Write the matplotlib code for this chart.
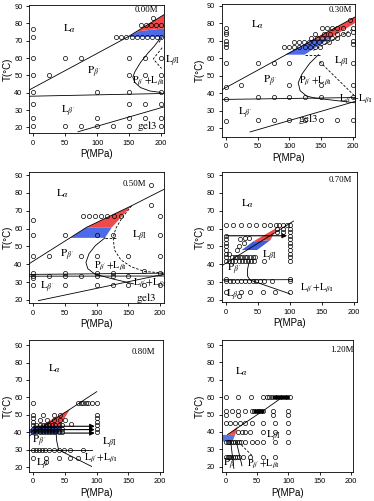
import matplotlib
matplotlib.use("Agg")
import matplotlib.pyplot as plt

plt.rcParams["font.family"] = ["Liberation Sans", "DejaVu Sans"]
plt.rcParams["mathtext.fontset"] = "stix"

# ------------------------------------------------------------
# data: P (MPa), T (degC)
# rows = (T, [P values])
# ------------------------------------------------------------
conc = ["0.00M", "0.30M", "0.50M", "0.70M", "0.80M", "1.20M"]

# ---- 0.00 M
rows_000 = [
    (83, [188]),
    (79, [168, 177, 185, 193, 200]),
    (77, [0]),
    (72, [0, 130, 138, 146, 154, 162, 170, 178, 186, 194, 200]),
    (60, [0, 50, 75, 150, 175, 200]),
    (50.5, [0, 25, 150, 175, 200]),
    (40.3, [0, 100, 150, 200]),
    (33.5, [0, 150, 175, 200]),
    (25.2, [0, 100, 150, 175, 200]),
    (20.8, [0, 50, 75, 100, 125, 150, 200]),
]
solid_000 = [
    [(-7, 41.5), (148, 72.2), (206, 85.3)],
    [(-7, 38.0), (206, 39.6)],
    [(200, 72), (190, 67), (180, 63), (168, 57.5), (159, 52), (156, 49),
     (159, 46), (168, 43), (183, 41), (200, 40.2)],
    [(70, 17.5), (206, 32)],
]
dashed_000 = [[(202, 66), (188, 59.5), (201, 54)], [(197, 69), (202, 72)]]
red_000 = [(148, 72.2), (206, 85.3), (206, 77.2), (165, 75.5)]
blue_000 = [(148, 72.2), (165, 75.5), (206, 77.2), (206, 72.2), (152, 72.2)]
text_000 = [(r"$\mathrm{L}_{\alpha}$", 57, 77), (r"$\mathrm{P}_{\beta'}$", 96, 51.5),
            (r"$\mathrm{L}_{\beta\mathrm{I}}$", 218, 58),
            (r"$\mathrm{P}_{\beta'}\mathrm{+L}_{\beta\mathrm{I}}$", 181, 46.5),
            (r"$\mathrm{L}_{\beta'}$", 55, 29.5), (r"$\mathrm{gel3}$", 178, 20.6)]

# ---- 0.30 M
rows_030 = [
    (81.5, [196]),
    (77, [0, 152, 160, 168, 176, 184, 200]),
    (75, [0, 200]),
    (74, [140, 155, 165, 175, 185, 193]),
    (73.5, [0]),
    (71.5, [135, 143, 151, 159, 167, 175]),
    (70, [0, 200]),
    (69, [107, 115, 123, 131, 139, 147, 155, 163]),
    (68, [0, 200]),
    (66.5, [0, 92, 100, 108, 116, 124, 132, 140, 148]),
    (57, [0, 50, 75, 100, 150, 200]),
    (44.5, [24, 100, 150, 200]),
    (43.5, [0]),
    (38, [50, 75, 100, 125, 150, 200]),
    (37, [0]),
    (25, [50, 75, 100, 125, 150, 175, 200]),
    (24, [0]),
]
solid_030 = [
    [(-7, 41.9), (206, 83.9)],
    [(146, 62), (132, 57), (120, 51), (114, 46), (117, 41.5), (127, 38.5), (140, 37.3)],
    [(-7, 36.5), (206, 37.6)],
    [(140, 37.3), (206, 34.5)],
    [(38, 18), (206, 35.6)],
]
dashed_030 = [[(124, 62), (150, 62)], [(148, 58), (206, 37.5)], [(138, 64.5), (200, 76.5)]]
red_030 = [(140, 71), (206, 83.9), (206, 80.5), (165, 71.5)]
blue_030 = [(93, 62), (124, 62), (165, 71.5), (140, 71)]
text_030 = [(r"$\mathrm{L}_{\alpha}$", 50, 79), (r"$\mathrm{P}_{\beta'}$", 70, 47),
            (r"$\mathrm{P}_{\beta'}\mathrm{+L}_{\beta\mathrm{I}}$", 141, 47),
            (r"$\mathrm{L}_{\beta\mathrm{I}}$", 183, 57.5),
            (r"$\mathrm{L}_{\beta'}\mathrm{+L}_{\beta\mathrm{I}}$", 204, 36.5),
            (r"$\mathrm{L}_{\beta'}$", 30, 28.5), (r"$\mathrm{gel3}$", 130, 25.3)]

# ---- 0.50 M
rows_050 = [
    (84.5, [186]),
    (73.5, [185]),
    (67, [79, 88, 98, 107, 117, 127, 138, 200]),
    (65, [0]),
    (56.5, [0, 50, 100, 125, 200]),
    (44.5, [0, 25, 75, 100, 150, 200]),
    (36, [175]),
    (35.2, [0, 50, 100, 125, 200]),
    (33.5, [0, 25, 50, 75, 100, 125, 150]),
    (32.2, [0]),
    (28.3, [0, 50, 100, 125, 150, 175, 200]),
]
solid_050 = [
    [(-7, 40.2), (58, 54.8), (84, 60.7), (155, 72.8), (206, 82)],
    [(113, 54.8), (98, 50.5), (88, 46), (83, 41), (86, 37.5), (97, 34.5), (125, 31.8), (158, 29)],
    [(-7, 34.3), (206, 35)],
    [(-7, 33.3), (206, 33.4)],
    [(8, 19.6), (206, 34.4)],
]
dashed_050 = [[(113, 54.8), (130, 54.8)],
              [(155, 72.8), (140, 66), (130, 60), (126, 55), (128, 48), (138, 42.5),
               (155, 38.5), (175, 36), (206, 35)]]
red_050 = [(84, 60.7), (155, 72.8), (124, 60.7)]
blue_050 = [(58, 54.8), (84, 60.7), (124, 60.7), (113, 54.8)]
text_050 = [(r"$\mathrm{L}_{\alpha}$", 46, 79.5), (r"$\mathrm{P}_{\beta'}$", 54, 45),
            (r"$\mathrm{L}_{\beta\mathrm{I}}$", 168, 55.5),
            (r"$\mathrm{P}_{\beta'}\mathrm{+L}_{\beta\mathrm{I}}$", 121, 38.8),
            (r"$\mathrm{L}_{\beta'}\mathrm{+L}_{\beta\mathrm{I}}$", 183, 29.3),
            (r"$\mathrm{L}_{\beta'}$", 23, 27), (r"$\mathrm{gel3}$", 178, 20.8)]

# ---- 0.70 M
rows_070 = [
    (62, [0, 12, 24, 36, 48, 60, 70, 78, 84, 90, 96, 100]),
    (60, [80, 90, 100]),
    (58, [80, 90, 100]),
    (56, [0, 100]),
    (55, [30, 36]),
    (54, [0, 22, 100]),
    (52, [0, 28, 100]),
    (50, [0, 20, 100]),
    (48, [0, 17, 100]),
    (46, [0, 5, 100]),
    (44, [0, 10, 14, 18, 22, 26, 30, 34, 38, 42, 46, 100]),
    (42, [0, 5, 10, 15, 20, 25, 30, 35, 40, 45, 60, 100]),
    (32, [0, 100]),
    (30.5, [0, 6, 12, 18, 24, 30, 36, 42, 48, 54, 60, 72, 100]),
    (24.5, [0, 24, 38, 59, 77, 100]),
    (22.5, [20]),
]
solid_070 = [
    [(-7, 39.0), (106, 64.2)],
    [(37, 42), (34, 37), (34, 33.5), (38, 31.2), (45, 30.3), (100, 23.5)],
    [(-7, 31.2), (104, 31.4)],
]
dashed_070 = []
arrows_070 = [(0, 56, 96, 56)]
red_070 = [(43, 52.8), (80, 60.5), (70, 53.6)]
blue_070 = [(25, 48), (43, 52.8), (70, 53.6), (49, 48)]
text_070 = [(r"$\mathrm{L}_{\alpha}$", 34, 74), (r"$\mathrm{L}_{\beta\mathrm{I}}$", 69, 44.3),
            (r"$\mathrm{P}_{\beta'}$", 14, 37),
            (r"$\mathrm{L}_{\beta'}\mathrm{+L}_{\beta\mathrm{I}}$", 142, 26.5),
            (r"$\mathrm{L}_{\beta'}$", 12, 22.5)]

# ---- 0.80 M
rows_080 = [
    (57, [0, 71, 75, 79, 83, 87, 92, 100]),
    (50, [0, 16, 32, 42, 100]),
    (48, [0, 100]),
    (47, [10, 21, 32, 42, 50]),
    (46, [0, 100]),
    (45, [60]),
    (44, [0, 5, 10, 15, 20, 25, 30, 35, 40, 45, 100]),
    (42, [0, 5, 10, 15, 20, 25, 30, 35, 40, 45, 100]),
    (40, [0, 5, 10, 15, 20, 25, 30, 35, 40, 45, 100]),
    (30, [0, 5, 9, 14, 18, 25, 32, 40, 48, 58, 79]),
    (25.2, [0, 20, 40, 58, 70]),
    (22.8, [20]),
]
solid_080 = [
    [(-7, 37.8), (100, 63.3)],
    [(36, 39.5), (37, 35), (40, 30), (92, 20.5)],
    [(-7, 30), (92, 30)],
]
dashed_080 = []
arrows_080 = [(0, 43.5, 97, 43.5), (0, 41.6, 97, 41.6), (0, 39.6, 97, 39.6)]
red_080 = [(12, 43.8), (58, 53.3), (42, 43.8)]
blue_080 = [(-7, 39.5), (-7, 41.5), (8, 43.8), (44, 43.8), (40, 39.5)]
text_080 = [(r"$\mathrm{L}_{\alpha}$", 34, 76.6), (r"$\mathrm{P}_{\beta'}$", 10, 34.7),
            (r"$\mathrm{L}_{\beta\mathrm{I}}$", 121, 33.5),
            (r"$\mathrm{L}_{\beta'}\mathrm{+L}_{\beta\mathrm{I}}$", 106, 25.2),
            (r"$\mathrm{L}_{\beta'}$", 16, 21.8)]

# ---- 1.20 M
rows_120 = [
    (60.3, [0, 20, 40, 60, 66, 70, 74, 78, 82, 86, 90, 94, 98, 102]),
    (52, [0, 10, 20, 31, 42, 45, 48, 51, 54, 57, 60, 76, 100]),
    (50, [0, 20, 76, 100]),
    (45.2, [0, 7, 15, 23, 31, 42, 60, 79, 100]),
    (39.8, [20, 26, 31, 39, 60, 79, 100]),
    (34.2, [0, 3, 6, 9, 12, 15, 18, 21, 24, 31, 42, 50, 60, 79, 100]),
    (25.8, [0, 3, 6, 9, 12, 15, 18, 21, 28, 39, 60, 79]),
]
solid_120 = [
    [(3, 38.5), (60, 52.2), (92, 60.3)],
    [(8, 34.4), (13, 19)],
    [(17, 34.4), (26, 20.5)],
]
dashed_120 = [[(25, 32.5), (44, 25.7)]]
bars_120 = [(44, 52, 62, 52), (74, 60.3, 101, 60.3)]
red_120 = [(3, 38.3), (20, 43.3), (15, 38.3)]
blue_120 = [(-7, 34.5), (-7, 38.3), (15, 38.3), (11, 34.5)]
text_120 = [(r"$\mathrm{L}_{\alpha}$", 25, 74.7), (r"$\mathrm{L}_{\beta\mathrm{I}}$", 76, 37.6),
            (r"$\mathrm{P}_{\beta'}$", 7, 21),
            (r"$\mathrm{P}_{\beta'}\mathrm{+L}_{\beta\mathrm{I}}$", 60, 21.2)]

conc_xy = [(177, 88), (180, 87.5), (160, 85), (179, 87.2), (174, 86.2), (185, 87)]

# axes placement (figure fraction) and limits
rects = [[0.0783, 0.7345, 0.360, 0.2555], [0.5928, 0.7272, 0.3564, 0.2639],
         [0.0783, 0.3946, 0.360, 0.2627], [0.5928, 0.3966, 0.361, 0.2607],
         [0.0783, 0.0585, 0.3583, 0.2629], [0.5928, 0.0585, 0.3519, 0.2629]]
xlims = [(-6.3, 204.7), (-6.8, 203.7), (-6.3, 206), (-6.3, 205), (-6.3, 205), (-6.4, 204)]
ylims = [(16.8, 90.6), (15.3, 90.6), (18.1, 91.9), (18.7, 91.9), (17.5, 92.9), (17.1, 92.9)]

panels = [
    dict(rows=rows_000, solid=solid_000, dashed=dashed_000, red=red_000, blue=blue_000,
         text=text_000, arrows=[], bars=[], bluec="#4d6be6"),
    dict(rows=rows_030, solid=solid_030, dashed=dashed_030, red=red_030, blue=blue_030,
         text=text_030, arrows=[], bars=[], bluec="#4d6be6"),
    dict(rows=rows_050, solid=solid_050, dashed=dashed_050, red=red_050, blue=blue_050,
         text=text_050, arrows=[], bars=[], bluec="#4d6be6"),
    dict(rows=rows_070, solid=solid_070, dashed=dashed_070, red=red_070, blue=blue_070,
         text=text_070, arrows=arrows_070, bars=[], bluec="#3f5ed8"),
    dict(rows=rows_080, solid=solid_080, dashed=dashed_080, red=red_080, blue=blue_080,
         text=text_080, arrows=arrows_080, bars=[], bluec="#2b44a6"),
    dict(rows=rows_120, solid=solid_120, dashed=dashed_120, red=red_120, blue=blue_120,
         text=text_120, arrows=[], bars=bars_120, bluec="#5577e0"),
]

fig = plt.figure(figsize=(3.74, 5.01), dpi=100)

for i, pn in enumerate(panels):
    ax = fig.add_axes(rects[i])
    # coloured coexistence regions
    xs, ys = zip(*pn["blue"])
    ax.fill(xs, ys, color=pn["bluec"], lw=0, zorder=1)
    xs, ys = zip(*pn["red"])
    ax.fill(xs, ys, color="#ee4a4a", lw=0, zorder=1)
    # boundaries
    for ln in pn["solid"]:
        xs, ys = zip(*ln)
        ax.plot(xs, ys, color="black", lw=0.6, zorder=2)
    for ln in pn["dashed"]:
        xs, ys = zip(*ln)
        ax.plot(xs, ys, color="black", lw=0.6, ls=(0, (3, 2)), zorder=2)
    for x0, y0, x1, y1 in pn["bars"]:
        ax.plot([x0, x1], [y0, y1], color="black", lw=2.2, solid_capstyle="butt", zorder=3)
    for x0, y0, x1, y1 in pn["arrows"]:
        ax.annotate("", xy=(x1, y1), xytext=(x0, y0),
                    arrowprops=dict(arrowstyle="-|>", color="black", lw=0.8,
                                    mutation_scale=7, shrinkA=0, shrinkB=0), zorder=3)
    # measured points
    P = [p for t, ps in pn["rows"] for p in ps]
    T = [t for t, ps in pn["rows"] for p in ps]
    ax.plot(P, T, ls="none", marker="o", ms=3.0, mfc="none", mec="black", mew=0.5,
            zorder=4, clip_on=False)
    # region labels (two-phase labels a bit smaller)
    for s, x, y in pn["text"]:
        fs = 7 if "+" in s else 8
        ax.text(x, y, s, fontsize=fs, ha="center", va="center", zorder=5)
    ax.text(conc_xy[i][0], conc_xy[i][1], conc[i], fontsize=6.3, family="Liberation Serif",
            ha="center", va="center")

    ax.set_xlim(*xlims[i])
    ax.set_ylim(*ylims[i])
    ax.set_xticks([0, 50, 100, 150, 200])
    ax.set_yticks(range(20, 91, 10))
    ax.tick_params(direction="out", length=2.4, width=0.6, labelsize=5.3, pad=2.5)
    for sp in ax.spines.values():
        sp.set_linewidth(0.6)
    ax.set_xlabel("P(MPa)", fontsize=7, labelpad=1.5)
    ax.set_ylabel("T(\u00b0C)", fontsize=7, labelpad=1)

plt.savefig("out.png", dpi=100)
